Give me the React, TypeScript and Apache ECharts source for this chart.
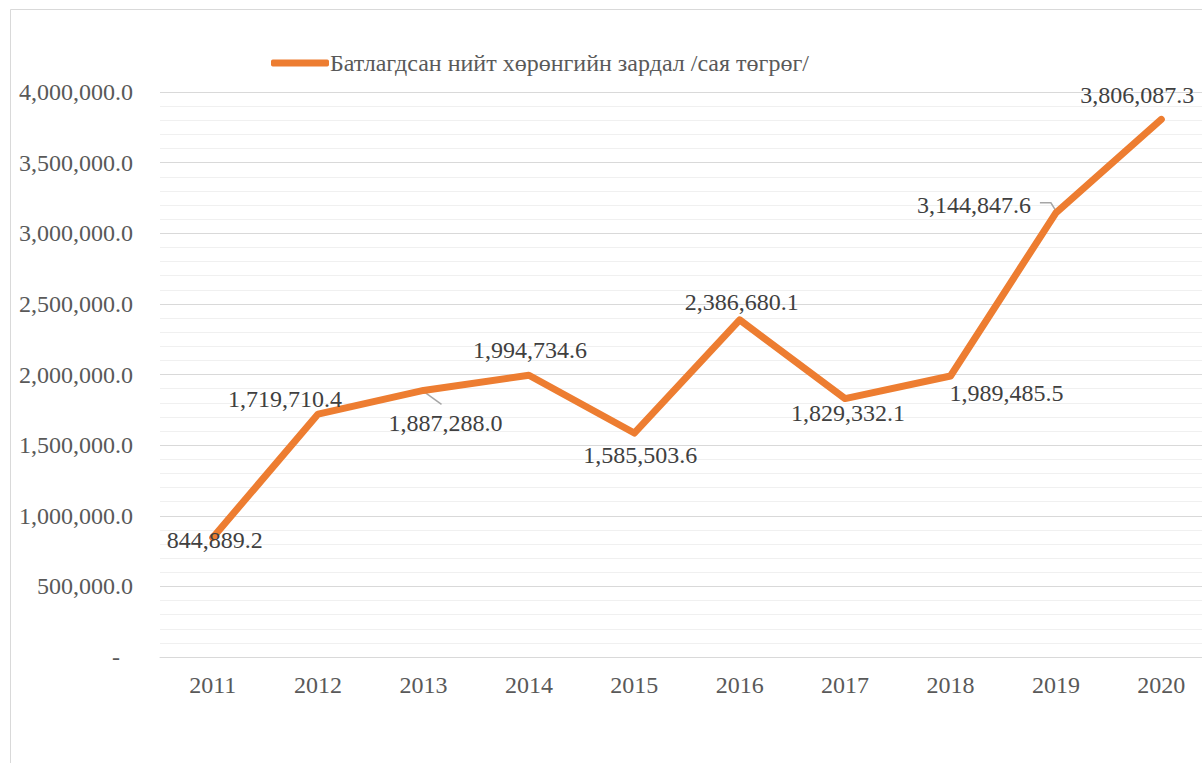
import React, { useEffect, useRef } from "react";
import * as echarts from "echarts";

const years = ["2011", "2012", "2013", "2014", "2015", "2016", "2017", "2018", "2019", "2020"];
const values = [844889.2, 1719710.4, 1887288.0, 1994734.6, 1585503.6, 2386680.1, 1829332.1, 1989485.5, 3144847.6, 3806087.3];
const labelOffsets: number[][] = [
  [2, 2], [-33, -15], [22, 33], [1, -25], [6, 22], [2, -18], [3, 14], [56, 17], [-82, -8], [-24, -24],
];
const seriesName = "Батлагдсан нийт хөрөнгийн зардал /сая төгрөг/";

const FONT = "Liberation Serif";

function fmt(v: number): string {
  return v.toLocaleString("en-US", { minimumFractionDigits: 1, maximumFractionDigits: 1 });
}

export default function App() {
  const ref = useRef<HTMLDivElement>(null);
  useEffect(() => {
    document.body.style.margin = "0";
    document.body.style.overflow = "hidden";
    const chart = echarts.init(ref.current!, null, { renderer: "svg" });
    chart.setOption({
      animation: false,
      backgroundColor: "#ffffff",
      legend: {
        left: 266,
        top: 46,
        itemWidth: 58,
        itemHeight: 7,
        itemGap: 10,
        icon: "roundRect",
        data: [{ name: seriesName, itemStyle: { color: "#ed7d31" } }],
        textStyle: { fontFamily: FONT, fontSize: 24, color: "#595959", padding: [0, 0, 0, -4] },
      },
      grid: { left: 160, top: 92, width: 1054, height: 565 },
      xAxis: {
        type: "category",
        data: years,
        boundaryGap: true,
        axisLine: { show: true, lineStyle: { color: "#d9d9d9", width: 1 } },
        axisTick: { show: false },
        axisLabel: { fontFamily: FONT, fontSize: 24, color: "#595959", margin: 16 },
      },
      yAxis: {
        type: "value",
        min: 0,
        max: 4000000,
        interval: 500000,
        axisLine: { show: false },
        axisTick: { show: false },
        axisLabel: {
          fontFamily: FONT,
          fontSize: 24,
          color: "#595959",
          margin: 27,
          formatter: (v: number) => (v === 0 ? "{d|-}" : fmt(v)),
          rich: { d: { fontFamily: FONT, fontSize: 24, color: "#595959", padding: [0, 13, 0, 0] } },
        },
        splitLine: { show: true, lineStyle: { color: "#d9d9d9", width: 1 } },
        minorTick: { show: false, splitNumber: 5 },
        minorSplitLine: { show: true, lineStyle: { color: "#f0f0f0", width: 1 } },
      },
      series: [
        {
          name: seriesName,
          type: "line",
          data: values.map((v, i) => ({ value: v, label: { offset: labelOffsets[i] } })),
          symbol: "circle",
          symbolSize: 1,
          showSymbol: true,
          itemStyle: { color: "#ed7d31" },
          lineStyle: { color: "#ed7d31", width: 7, cap: "round", join: "round" },
          label: {
            show: true,
            position: "inside",
            fontFamily: FONT,
            fontSize: 24,
            color: "#404040",
            formatter: (p: any) => fmt(p.value),
          },
          z: 3,
        },
      ],
    });
    const p13 = chart.convertToPixel({ xAxisIndex: 0, yAxisIndex: 0 }, [2, values[2]]) as number[];
    const p19 = chart.convertToPixel({ xAxisIndex: 0, yAxisIndex: 0 }, [8, values[8]]) as number[];
    chart.setOption({
      graphic: [
        {
          type: "rect",
          shape: { x: 10.5, y: 9.5, width: 1300, height: 900 },
          style: { fill: "none", stroke: "#d9d9d9", lineWidth: 1 },
          silent: true,
          z: -1,
        },
        {
          type: "polyline",
          shape: { points: [[p13[0], p13[1] + 1], [p13[0] + 18, p13[1] + 14]] },
          style: { stroke: "#a6a6a6", lineWidth: 1.5, fill: "none" },
          silent: true,
          z: 2,
        },
        {
          type: "polyline",
          shape: { points: [[p19[0] - 16, p19[1] - 10], [p19[0] - 5, p19[1] - 10], [p19[0], p19[1] - 2]] },
          style: { stroke: "#a6a6a6", lineWidth: 1.5, fill: "none" },
          silent: true,
          z: 2,
        },
      ],
    });
    return () => chart.dispose();
  }, []);
  return <div ref={ref} style={{ position: "absolute", left: 0, top: 0, width: 1220, height: 763 }} />;
}
